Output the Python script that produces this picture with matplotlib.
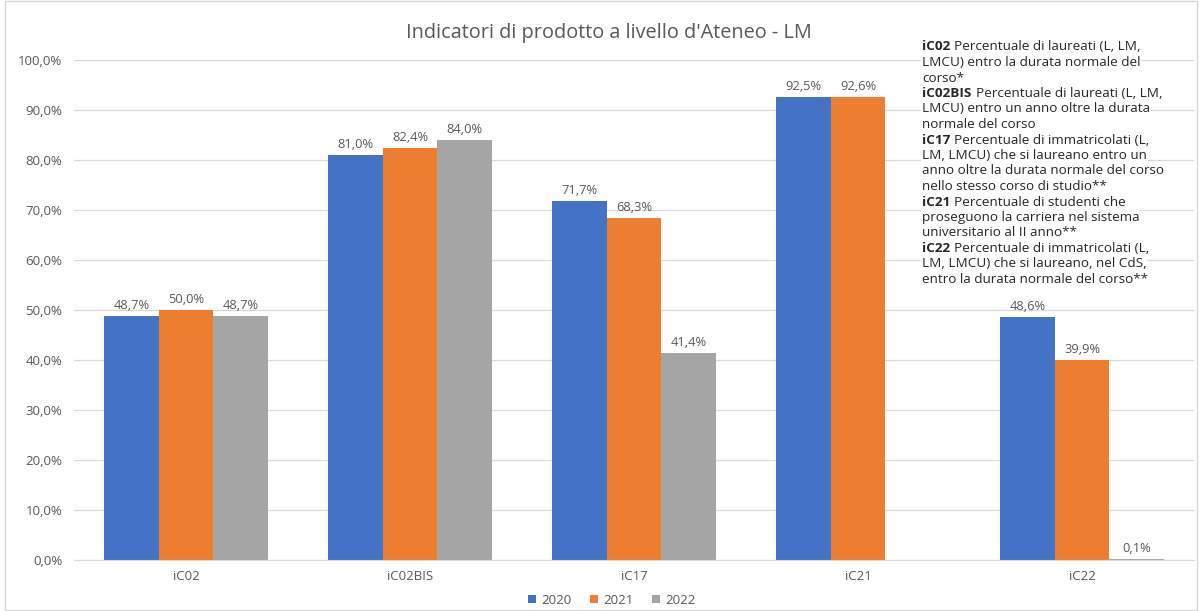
"""Indicatori di prodotto a livello d'Ateneo - LM: grouped bars per indicator, 2020-2022."""

import matplotlib

matplotlib.use("Agg")
import matplotlib.pyplot as plt  # noqa: E402
import numpy as np  # noqa: E402
from matplotlib.patches import Rectangle  # noqa: E402

categories = ["iC02", "iC02BIS", "iC17", "iC21", "iC22"]
years = ["2020", "2021", "2022"]
v2020 = [48.7, 81.0, 71.7, 92.5, 48.6]
v2021 = [50.0, 82.4, 68.3, 92.6, 39.9]
v2022 = [48.7, 84.0, 41.4, None, 0.1]  # no 2022 value for iC21
ticks = [0, 10, 20, 30, 40, 50, 60, 70, 80, 90, 100]

notes = [
    ("iC02", "Percentuale di laureati (L, LM,"),
    ("", "LMCU) entro la durata normale del"),
    ("", "corso*"),
    ("iC02BIS", "Percentuale di laureati (L, LM,"),
    ("", "LMCU) entro un anno oltre la durata"),
    ("", "normale del corso"),
    ("iC17", "Percentuale di immatricolati (L,"),
    ("", "LM, LMCU) che si laureano entro un"),
    ("", "anno oltre la durata normale del corso"),
    ("", "nello stesso corso di studio**"),
    ("iC21", "Percentuale di studenti che"),
    ("", "proseguono la carriera nel sistema"),
    ("", "universitario al II anno**"),
    ("iC22", "Percentuale di immatricolati (L,"),
    ("", "LM, LMCU) che si laureano, nel CdS,"),
    ("", "entro la durata normale del corso**"),
]

COLORS = ["#4472C4", "#ED7D31", "#A5A5A5"]
GRID = "#D9D9D9"
TXT = "#595959"
NOTE = "#262626"
plt.rcParams["font.family"] = ["Open Sans", "DejaVu Sans"]

fig = plt.figure(figsize=(12.02, 6.11), dpi=100)
ax = fig.add_axes([0.0616, 0.0835, 0.9318, 0.8183])

x = np.arange(len(categories))
w = 0.243
for i, (vals, col) in enumerate(zip([v2020, v2021, v2022], COLORS)):
    pos = x + (i - 1) * w
    heights = [np.nan if v is None else v for v in vals]
    ax.bar(pos, heights, width=w, color=col, label=years[i], zorder=2)
    for px, v in zip(pos, vals):
        if v is None:
            continue
        ax.text(px, v + 0.8, f"{v:.1f}%".replace(".", ","), ha="center", va="bottom",
                fontsize=9.3, color=TXT, zorder=3)

ax.set_xlim(-0.5, len(categories) - 0.5)
ax.set_ylim(0, 100)
ax.set_yticks(ticks)
ax.set_yticklabels([f"{t:.1f}%".replace(".", ",") for t in ticks])
ax.set_xticks(x)
ax.set_xticklabels(categories)
ax.tick_params(length=0, labelsize=9.5, labelcolor=TXT)
ax.tick_params(axis="y", pad=8.5)
ax.tick_params(axis="x", pad=7)
ax.grid(axis="y", color=GRID, linewidth=0.9, zorder=0)
for s in ["top", "right", "left"]:
    ax.spines[s].set_visible(False)
ax.spines["bottom"].set_color(GRID)

fig.text(0.507, 0.946, "Indicatori di prodotto a livello d'Ateneo - LM", ha="center",
         va="center", fontsize=14.3, color=TXT)

handles, labels = ax.get_legend_handles_labels()
leg = fig.legend(handles, labels, loc="center", bbox_to_anchor=(0.509, 0.018), ncol=3,
                 frameon=False, fontsize=9.5, handlelength=0.6, handleheight=0.6,
                 columnspacing=1.4, handletextpad=0.4)
for t in leg.get_texts():
    t.set_color(TXT)

# annotation block: white backing boxes first, then the text on top,
# so gridlines stay visible only where the text lines leave gaps
x0, y0, dy = 922 / 1202, 1 - 47 / 611, 15.5 / 611
FS = 9.7
for layer in ("box", "text"):
    if layer == "box":
        kw = dict(color="white", bbox=dict(facecolor="white", edgecolor="none", pad=0.5),
                  zorder=5)
    else:
        kw = dict(color=NOTE, zorder=6)
    for k, (bold, rest) in enumerate(notes):
        yy = y0 - k * dy
        if bold:
            tb = fig.text(x0, yy, bold, fontsize=FS, fontweight="bold", va="center",
                          ha="left", **kw)
            ax.annotate(rest, xy=(1, 0.5), xycoords=tb, xytext=(3, 0),
                        textcoords="offset points", va="center", ha="left",
                        fontsize=FS, annotation_clip=False, **kw)
        else:
            fig.text(x0, yy, rest, fontsize=FS, va="center", ha="left", **kw)

fig.patches.append(Rectangle((0.004, 0.002), 0.992, 0.996, transform=fig.transFigure,
                             fill=False, edgecolor="#D9D9D9", linewidth=1))

fig.savefig("out.png", dpi=100)
